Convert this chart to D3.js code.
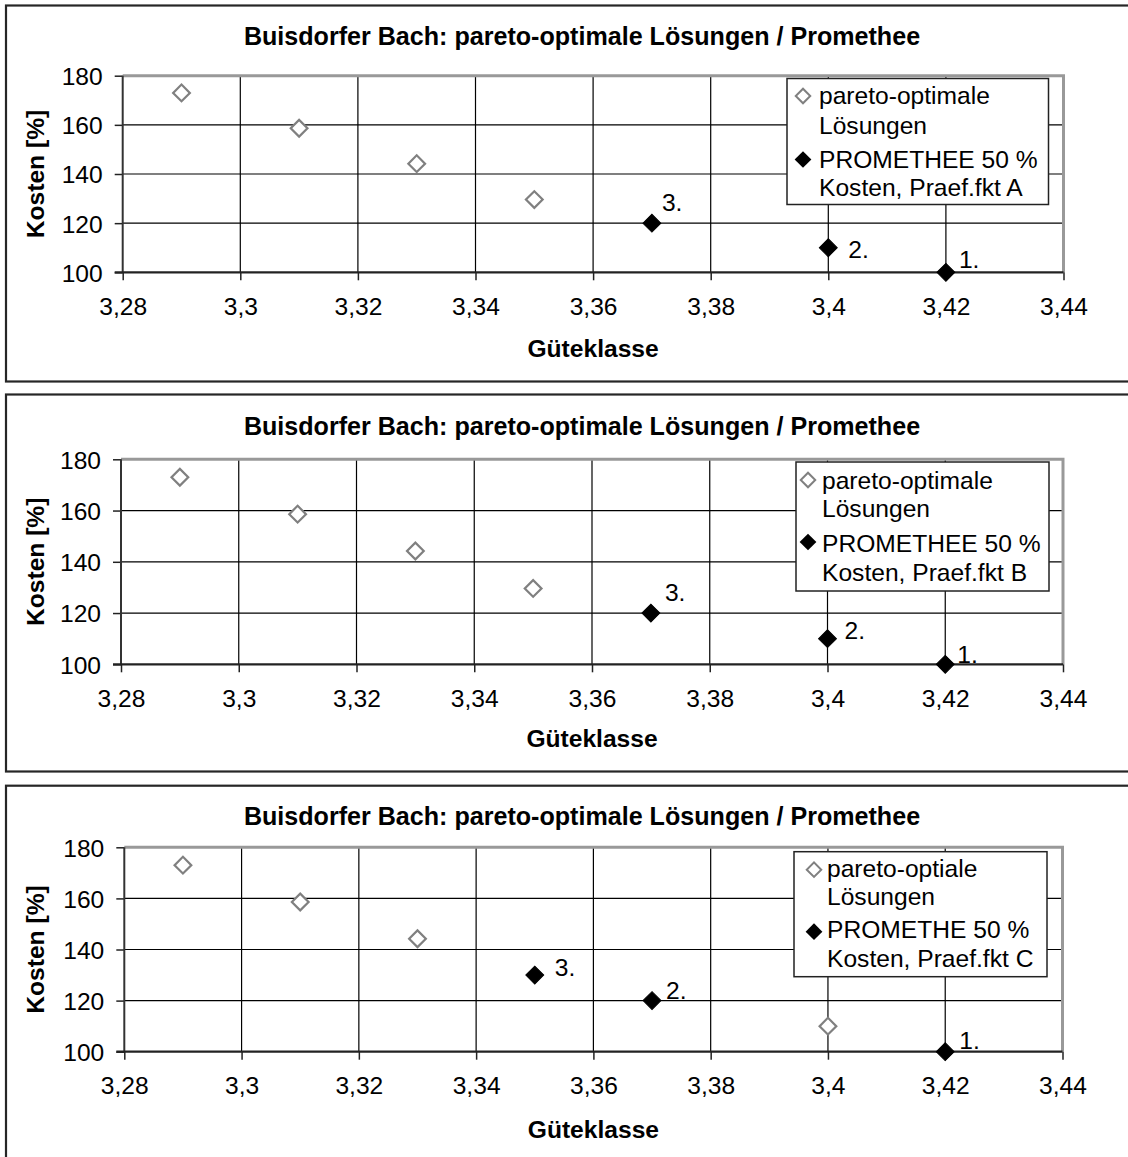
<!DOCTYPE html>
<html>
<head>
<meta charset="utf-8">
<script src="https://cdn.jsdelivr.net/npm/d3@7"></script>
<style>
  html, body { margin: 0; padding: 0; background: #fff; }
  svg { display: block; }
  text { font-family: "Liberation Sans", Arial, sans-serif; fill: #000; }
</style>
</head>
<body>
<svg id="chart" width="1128" height="1157"></svg>
<script>
// ---------------- data ----------------
const chartTitle = "Buisdorfer Bach: pareto-optimale Lösungen / Promethee";
const xAxisTitle = "Güteklasse";
const yAxisTitle = "Kosten [%]";
const xTickValues = [3.28, 3.30, 3.32, 3.34, 3.36, 3.38, 3.40, 3.42, 3.44];
const xTickLabels = ["3,28", "3,3", "3,32", "3,34", "3,36", "3,38", "3,4", "3,42", "3,44"];
const yTickValues = [100, 120, 140, 160, 180];
const yTickLabels = ["100", "120", "140", "160", "180"];

// panel A
const paretoX_A = [3.29, 3.31, 3.33, 3.35];
const paretoY_A = [173, 158.6, 144.2, 129.6];
const promX_A = [3.37, 3.40, 3.42];
const promY_A = [120, 110, 100];
const promRank_A = ["3.", "2.", "1."];
const legendA = [["pareto-optimale", "Lösungen"], ["PROMETHEE 50 %", "Kosten, Praef.fkt A"]];

// panel B
const paretoX_B = [3.29, 3.31, 3.33, 3.35];
const paretoY_B = [173, 158.6, 144.2, 129.6];
const promX_B = [3.37, 3.40, 3.42];
const promY_B = [120, 110, 100];
const promRank_B = ["3.", "2.", "1."];
const legendB = [["pareto-optimale", "Lösungen"], ["PROMETHEE 50 %", "Kosten, Praef.fkt B"]];

// panel C
const paretoX_C = [3.29, 3.31, 3.33, 3.40];
const paretoY_C = [173, 158.6, 144.2, 110];
const promX_C = [3.35, 3.37, 3.42];
const promY_C = [130, 120, 100];
const promRank_C = ["3.", "2.", "1."];
const legendC = [["pareto-optiale", "Lösungen"], ["PROMETHE 50 %", "Kosten, Praef.fkt C"]];

// ---------------- layout (positions only) ----------------
const layouts = [
  { boxTop: 5.5, boxBottom: 381.5, left: 122.7, right: 1063.5, top: 75.7, bottom: 272.3,
    titleY: 45, xTitleY: 357, yTitleX: 44,
    legend: { x: 787, y: 78.5, w: 261.5, h: 126, textX: 32, markX: 16, lines: [25.5, 55, 89, 117.5], marks: [17.5, 81] },
    labelOff: [[10, -12], [20, 10], [13, -4]] },
  { boxTop: 394.5, boxBottom: 771.5, left: 121, right: 1063, top: 459.3, bottom: 664.3,
    titleY: 435, xTitleY: 746.7, yTitleX: 44,
    legend: { x: 796, y: 462, w: 253, h: 129, textX: 26, markX: 12, lines: [26.5, 55, 90, 118.5], marks: [18, 80] },
    labelOff: [[14, -12.5], [17, 0], [12, -1]] },
  { boxTop: 785.7, boxBottom: 1170, left: 124.3, right: 1062.5, top: 847.3, bottom: 1051.7,
    titleY: 825, xTitleY: 1138.3, yTitleX: 44,
    legend: { x: 794, y: 851.7, w: 253, h: 125, textX: 33, markX: 20, lines: [25, 53.3, 86.6, 115], marks: [18, 80] },
    labelOff: [[20, 1], [14, -2], [14, -3]] }
];

const panels = [
  { px: paretoX_A, py: paretoY_A, qx: promX_A, qy: promY_A, rank: promRank_A, legend: legendA },
  { px: paretoX_B, py: paretoY_B, qx: promX_B, qy: promY_B, rank: promRank_B, legend: legendB },
  { px: paretoX_C, py: paretoY_C, qx: promX_C, qy: promY_C, rank: promRank_C, legend: legendC }
];

const svg = d3.select("#chart");
const FS = 24.6;
const TFS = 25.1;
const openDiamond = d3.symbol(d3.symbolSquare, 140);
const fillDiamond = d3.symbol(d3.symbolSquare, 160);
const legOpen = d3.symbol(d3.symbolSquare, 105);
const legFill = d3.symbol(d3.symbolSquare, 140);

panels.forEach((p, i) => {
  const L = layouts[i];
  const g = svg.append("g");

  // outer frame (open to the right: cropped in the source)
  g.append("rect")
    .attr("x", 6).attr("y", L.boxTop)
    .attr("width", 1200).attr("height", L.boxBottom - L.boxTop)
    .attr("fill", "none").attr("stroke", "#262626").attr("stroke-width", 2.2);

  const x = d3.scaleLinear().domain([3.28, 3.44]).range([L.left, L.right]);
  const y = d3.scaleLinear().domain([100, 180]).range([L.bottom, L.top]);

  // gridlines
  g.append("g").selectAll("line").data(yTickValues.filter(v => v > 100 && v < 180)).join("line")
    .attr("x1", L.left).attr("x2", L.right)
    .attr("y1", d => y(d)).attr("y2", d => y(d))
    .attr("stroke", "#000").attr("stroke-width", 1.2);
  g.append("g").selectAll("line").data(xTickValues.filter(v => v > 3.28 && v < 3.44)).join("line")
    .attr("x1", d => x(d)).attr("x2", d => x(d))
    .attr("y1", L.top).attr("y2", L.bottom)
    .attr("stroke", "#000").attr("stroke-width", 1.2);

  // plot area border (top & right grey)
  g.append("path")
    .attr("d", `M${L.left},${L.top}H${L.right}V${L.bottom}`)
    .attr("fill", "none").attr("stroke", "#999").attr("stroke-width", 3);

  // axes
  const yAxis = d3.axisLeft(y).tickValues(yTickValues).tickFormat((d, k) => yTickLabels[k]).tickSize(8).tickPadding(12);
  const gy = g.append("g").attr("transform", `translate(${L.left},0)`).call(yAxis);
  const xAxis = d3.axisBottom(x).tickValues(xTickValues).tickFormat((d, k) => xTickLabels[k]).tickSize(8).tickPadding(17);
  const gx = g.append("g").attr("transform", `translate(0,${L.bottom})`).call(xAxis);
  [gx, gy].forEach(a => {
    a.select(".domain").remove();
    a.selectAll(".tick line").attr("stroke", "#222").attr("stroke-width", 1.5);
    a.selectAll(".tick text").attr("font-size", FS).attr("font-family", "Liberation Sans, Arial, sans-serif").attr("fill", "#000");
  });
  gy.selectAll(".tick text").attr("dy", "0.36em");
  gx.selectAll(".tick text").attr("dy", "0.72em");
  g.append("line").attr("x1", L.left).attr("x2", L.left).attr("y1", L.top).attr("y2", L.bottom)
    .attr("stroke", "#333").attr("stroke-width", 2);
  g.append("line").attr("x1", L.left - 8).attr("x2", L.right).attr("y1", L.bottom).attr("y2", L.bottom)
    .attr("stroke", "#222").attr("stroke-width", 2.2);

  // titles
  g.append("text").attr("x", 582).attr("y", L.titleY).attr("text-anchor", "middle")
    .attr("font-size", TFS).attr("font-weight", "bold").text(chartTitle);
  g.append("text").attr("x", (L.left + L.right) / 2).attr("y", L.xTitleY).attr("text-anchor", "middle")
    .attr("font-size", FS).attr("font-weight", "bold").text(xAxisTitle);
  g.append("text")
    .attr("transform", `translate(${L.yTitleX},${(L.top + L.bottom) / 2}) rotate(-90)`)
    .attr("text-anchor", "middle").attr("font-size", FS).attr("font-weight", "bold").text(yAxisTitle);

  // pareto series (open grey diamonds)
  const pData = p.px.map((v, k) => ({ x: v, y: p.py[k] }));
  g.append("g").selectAll("path").data(pData).join("path")
    .attr("d", openDiamond)
    .attr("transform", d => `translate(${x(d.x)},${y(d.y)}) rotate(45)`)
    .attr("fill", "#fff").attr("stroke", "#808080").attr("stroke-width", 2.2);

  // promethee series (filled black diamonds)
  const qData = p.qx.map((v, k) => ({ x: v, y: p.qy[k], r: p.rank[k] }));
  g.append("g").selectAll("path").data(qData).join("path")
    .attr("d", fillDiamond)
    .attr("transform", d => `translate(${x(d.x)},${y(d.y)}) rotate(45)`)
    .attr("fill", "#000").attr("stroke", "#000").attr("stroke-width", 1);
  g.append("g").selectAll("text").data(qData).join("text")
    .attr("x", (d, k) => x(d.x) + L.labelOff[k][0])
    .attr("y", (d, k) => y(d.y) + L.labelOff[k][1])
    .attr("font-size", FS).text(d => d.r);

  // legend
  const lg = L.legend;
  const leg = g.append("g").attr("transform", `translate(${lg.x},${lg.y})`);
  leg.append("rect").attr("width", lg.w).attr("height", lg.h)
    .attr("fill", "#fff").attr("stroke", "#222").attr("stroke-width", 1.5);
  leg.append("path").attr("d", legOpen)
    .attr("transform", `translate(${lg.markX},${lg.marks[0]}) rotate(45)`)
    .attr("fill", "#fff").attr("stroke", "#808080").attr("stroke-width", 2);
  leg.append("path").attr("d", legFill)
    .attr("transform", `translate(${lg.markX},${lg.marks[1]}) rotate(45)`)
    .attr("fill", "#000");
  const lines = p.legend[0].concat(p.legend[1]);
  leg.selectAll("text.l").data(lines).join("text").attr("class", "l")
    .attr("x", lg.textX).attr("y", (d, k) => lg.lines[k])
    .attr("font-size", FS).text(d => d);
});
</script>
</body>
</html>
